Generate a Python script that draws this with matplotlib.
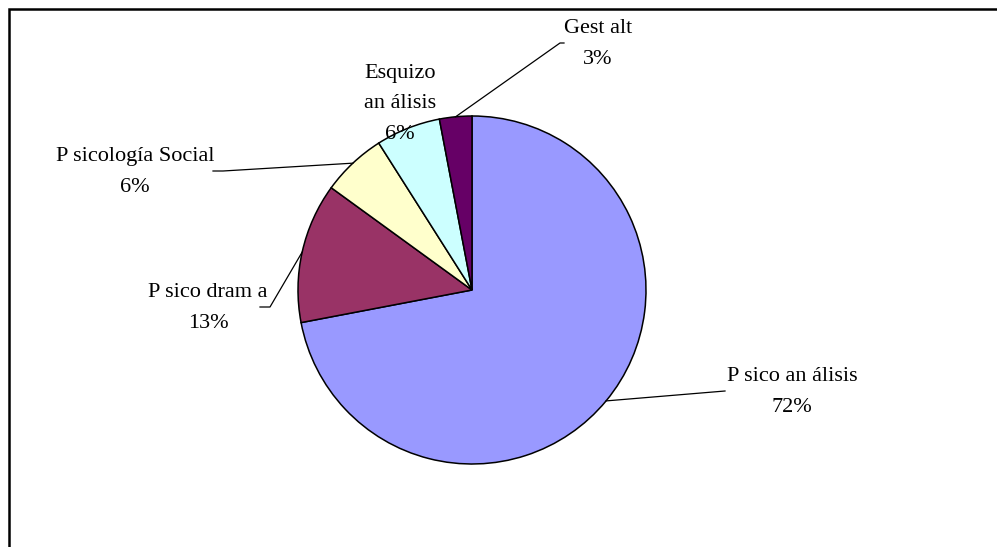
import numpy as np
import matplotlib
matplotlib.use("Agg")
import matplotlib.pyplot as plt

# ---- data ----
categories = ["P sico an álisis", "P sico dram a", "P sicología Social",
              "Esquizo\nan álisis", "Gest alt"]
values = [72, 13, 6, 6, 3]
pct_labels = ["72%", "13%", "6%", "6%", "3%"]
colors = ["#9999FF", "#993366", "#FFFFCC", "#CCFFFF", "#660066"]

# ---- layout (pixel-like coordinates, image y measured from top) ----
W, H = 997, 547
center_img = (472, 290)
radius = 174
# label centres (image coords)
label_pos = [(792, 392), (208, 308), (135, 172), (400, 104), (598, 44)]
# leader line waypoints after the wedge edge point (image coords); None = no leader
leader_pts = [
    [(725, 391)],
    [(270, 307), (260, 307)],
    [(223, 171), (213, 171)],
    None,
    [(560, 43), (564, 43)],
]

plt.rcParams['font.family'] = ['Liberation Serif', 'DejaVu Serif']

fig = plt.figure(figsize=(W / 100, H / 100), dpi=100)
ax = fig.add_axes([0, 0, 1, 1])

cx, cy = center_img[0], H - center_img[1]
wedges, _ = ax.pie(values, colors=colors, startangle=90, counterclock=False,
                   center=(cx, cy), radius=radius,
                   wedgeprops=dict(edgecolor="black", linewidth=1.1))

ax.set_xlim(0, W)
ax.set_ylim(0, H)
ax.set_aspect('auto')
ax.axis('off')

for i, w in enumerate(wedges):
    mid = np.deg2rad((w.theta1 + w.theta2) / 2)
    sx = cx + radius * np.cos(mid)
    sy = cy + radius * np.sin(mid)
    if leader_pts[i] is not None:
        xs = [sx] + [p[0] for p in leader_pts[i]]
        ys = [sy] + [H - p[1] for p in leader_pts[i]]
        ax.plot(xs, ys, color="black", lw=0.9, zorder=3)
    lx, ly = label_pos[i]
    ax.text(lx, H - ly, categories[i] + "\n" + pct_labels[i],
            ha="center", va="center", multialignment="center",
            fontsize=16, linespacing=1.8, color="black", zorder=5)

# chart area border (top and left visible)
ax.plot([9, 9, W], [0, H - 9, H - 9], color="black", lw=1.8,
        solid_joinstyle="miter", zorder=6, clip_on=False)

fig.savefig("out.png", dpi=100)
